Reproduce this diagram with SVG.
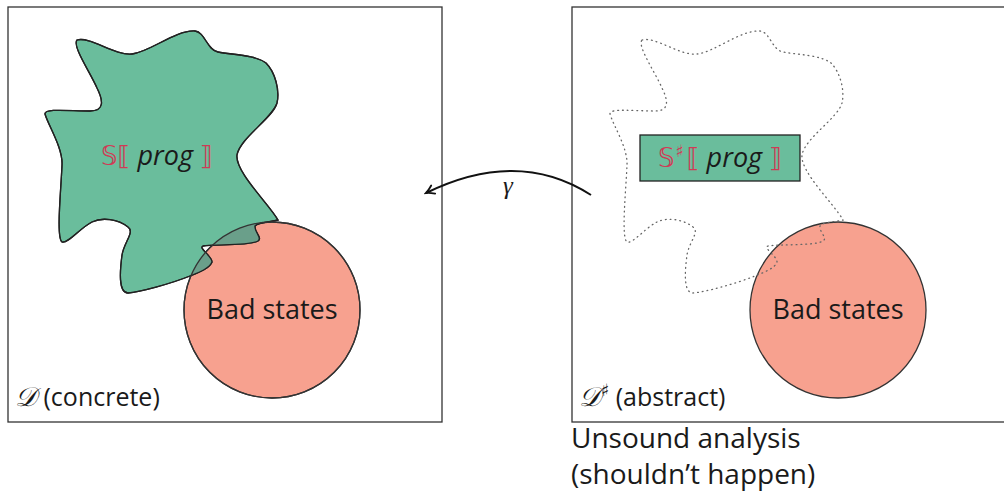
<svg xmlns="http://www.w3.org/2000/svg" xmlns:xlink="http://www.w3.org/1999/xlink" width="1004" height="504" viewBox="0 0 1004 504">
  <style>
    .frame { fill: none; stroke: #333; stroke-width: 1.3; }
    .blob { fill: #6abd9c; stroke: #222; stroke-width: 1.3; }
    .blob-line { fill: none; stroke: #222; stroke-width: 1.3; }
    .overlap { fill: #6a9f8a; stroke: none; }
    .bad { fill: #f7a18f; stroke: #333; stroke-width: 1.3; }
    .bad-line { fill: none; stroke: #333; stroke-width: 1.3; }
    .hull { fill: none; stroke: #666; stroke-width: 1.3; stroke-dasharray: 0.8 4; stroke-linecap: round; }
    .box { fill: #6abd9c; stroke: #222; stroke-width: 1.3; }
    .txt { font-family: "Open Sans", "Noto Sans", sans-serif; fill: #1a1a1a; }
    .sem { font-family: "DejaVu Sans", sans-serif; fill: #d03a55; }
    .prog { font-family: "Open Sans", "Noto Sans", sans-serif; font-style: italic; fill: #1a1a1a; }
    .dom { font-family: "DejaVu Serif", "Liberation Serif", serif; font-style: italic; fill: #1a1a1a; }
    .conn { fill: none; stroke: #111; stroke-width: 2; }
  </style>
  <defs>
    <!-- irregular region of reachable states -->
    <path id="region" d="M 77,40 C 90,36 115,56 132,54 C 150,52 175,30 195,31 C 205,32 207,50 218,52 C 235,55 255,55 266,63 C 275,72 280,90 277,103 C 273,118 240,138 237,155 C 235,172 270,205 278,220 C 270,222 258,222 255,226 C 254,232 263,238 258,241 C 250,246 215,244 203,246 C 198,248 212,256 212,262 C 210,268 200,272 190,276 C 170,284 140,292 128,293 C 118,293 120,270 122,255 C 124,242 135,232 128,227 C 118,219 102,217 92,222 C 80,228 68,244 62,242 C 56,238 61,190 62,165 C 63,148 48,125 45,114 C 44,108 70,111 90,111 C 105,111 103,100 97,88 C 90,72 72,46 77,40 Z"/>
    <clipPath id="bad-clip">
      <circle cx="272" cy="310" r="88"/>
    </clipPath>
    <marker id="arrow" viewBox="-10 -6 12 12" refX="0" refY="0" markerWidth="12" markerHeight="12" markerUnits="userSpaceOnUse" orient="auto">
      <path d="M -8,-4.5 Q -3,-1 0,0 Q -3,1 -8,4.5" fill="none" stroke="#111" stroke-width="1.8" stroke-linecap="round"/>
    </marker>
  </defs>

  <!-- concrete domain -->
  <g id="concrete">
    <rect class="frame" x="8" y="7" width="434" height="415"/>
    <circle class="bad" cx="272" cy="310" r="88"/>
    <use xlink:href="#region" class="blob"/>
    <use xlink:href="#region" class="overlap" clip-path="url(#bad-clip)"/>
    <use xlink:href="#region" class="blob-line"/>
    <circle class="bad-line" cx="272" cy="310" r="88"/>
    <text x="157" y="165" font-size="26" text-anchor="middle"><tspan class="sem">𝕊⟦</tspan><tspan class="prog" font-size="27"> prog </tspan><tspan class="sem">⟧</tspan></text>
    <text class="txt" x="272" y="319" font-size="27" text-anchor="middle">Bad states</text>
    <text x="15" y="406" font-size="25"><tspan class="dom" font-size="27">𝒟</tspan><tspan class="txt"> (concrete)</tspan></text>
  </g>

  <!-- abstract domain -->
  <g id="abstract">
    <rect class="frame" x="572" y="7" width="440" height="415"/>
    <circle class="bad" cx="838" cy="310" r="88"/>
    <use xlink:href="#region" class="hull" transform="translate(565,0)"/>
    <rect class="box" x="640" y="135" width="160" height="46"/>
    <text x="720" y="167" font-size="26" text-anchor="middle"><tspan class="sem">𝕊</tspan><tspan class="sem" font-size="17" dy="-10" dx="1">♯</tspan><tspan class="sem" dy="10" dx="3">⟦</tspan><tspan class="prog" font-size="27"> prog </tspan><tspan class="sem">⟧</tspan></text>
    <text class="txt" x="838" y="319" font-size="27" text-anchor="middle">Bad states</text>
    <text x="579" y="406" font-size="25"><tspan class="dom" font-size="27">𝒟</tspan><tspan class="dom" font-size="17" dy="-10" font-style="normal">♯</tspan><tspan class="txt" dy="10"> (abstract)</tspan></text>
  </g>

  <!-- caption -->
  <g id="caption">
    <text class="txt" x="571" y="448" font-size="28">Unsound analysis</text>
    <text class="txt" x="571" y="484" font-size="28">(shouldn’t happen)</text>
  </g>

  <!-- concretisation map -->
  <g id="connectors">
    <path class="conn" d="M 591,195 Q 518,148 426,193" marker-end="url(#arrow)"/>
    <text x="508" y="194" font-size="25" text-anchor="middle" font-family="'Liberation Serif', 'DejaVu Serif', serif" font-style="italic" fill="#1a1a1a">γ</text>
  </g>
</svg>
